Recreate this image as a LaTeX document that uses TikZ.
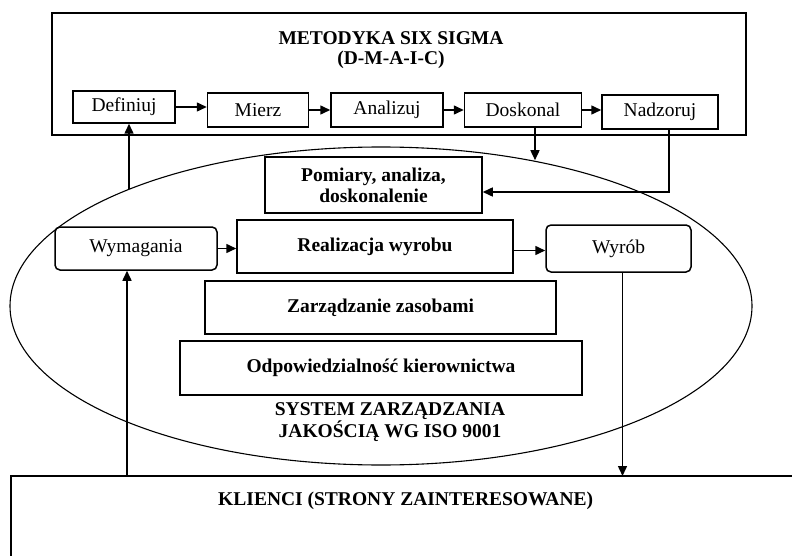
\documentclass[tikz,border=0pt]{standalone}
\usepackage{fontspec}
\setmainfont{Liberation Serif}
\usetikzlibrary{arrows.meta,positioning,shapes.geometric}

\begin{document}
\begin{tikzpicture}[x=1pt,y=-1pt,
  font=\fontsize{19.5}{21}\selectfont,
  box/.style={draw,line width=1.5pt,minimum height=34pt,inner sep=1pt},
  bbox/.style={box,font=\fontsize{19.5}{21}\selectfont\bfseries,align=center},
  rbox/.style={box,rounded corners=5pt},
  arrow/.style={-{Triangle[length=10pt,width=9pt]},line width=1.5pt}
]
\useasboundingbox (0,0) rectangle (792,556);
% Six Sigma frame
\node[draw,line width=1.5pt,minimum width=694pt,minimum height=122pt] (sigma) at (399,74) {};
\node[font=\fontsize{19.5}{20}\selectfont\bfseries,align=center] (title) at (391,50) {METODYKA SIX SIGMA\\(D-M-A-I-C)};
\node[box,minimum width=102pt,minimum height=32pt] (definiuj) at (124,107) {Definiuj};
\node[box,minimum width=101pt,right=31pt of definiuj,yshift=-3pt] (mierz) {Mierz};
\node[box,minimum width=112pt,right=21pt of mierz] (analizuj) {Analizuj};
\node[box,minimum width=117pt,right=20pt of analizuj] (doskonal) {Doskonal};
\node[box,minimum width=116pt,right=19pt of doskonal,yshift=-2pt] (nadzoruj) {Nadzoruj};

% ISO 9001 system
\node[draw,ellipse,line width=1.1pt,minimum width=742pt,minimum height=318pt,inner sep=0pt] (iso) at (381,306) {};
\node[bbox,minimum width=217pt,minimum height=56pt] (pomiary) at (373.5,185) {Pomiary, analiza,\\doskonalenie};
\node[rbox,minimum width=162pt,minimum height=43pt] (wymagania) at (136,248.5) {Wymagania};
\node[bbox,minimum width=276pt,minimum height=53pt] (realizacja) at (375,246.5) {Realizacja wyrobu};
\node[rbox,minimum width=145pt,minimum height=47pt] (wyrob) at (618.5,248.5) {Wyrób};
\node[bbox,minimum width=351pt,minimum height=53pt] (zasoby) at (380.5,307.5) {Zarządzanie zasobami};
\node[bbox,minimum width=402pt,minimum height=54pt] (kierownictwo) at (381,368) {Odpowiedzialność kierownictwa};
\node[font=\fontsize{19.5}{20}\selectfont\bfseries,align=center] (isolabel) at (390,422) {SYSTEM ZARZĄDZANIA\\JAKOŚCIĄ WG ISO 9001};

% clients
\node[anchor=north west,minimum width=789pt,inner ysep=16pt,font=\fontsize{19.5}{20}\selectfont\bfseries] (klienci) at (11,476) {KLIENCI (STRONY ZAINTERESOWANE)};
\draw[line width=1.5pt] ([yshift=-100pt]klienci.north west) -- (klienci.north west) -- (klienci.north east);

% connectors
\draw[arrow] (definiuj.east) -- (definiuj.east -| mierz.west);
\draw[arrow] (mierz) -- (analizuj);
\draw[arrow] (analizuj) -- (doskonal);
\draw[arrow] (doskonal.east) -- (doskonal.east -| nadzoruj.west);
\draw[arrow] ([xshift=12pt]doskonal.south) -- ([xshift=12pt]doskonal.south |- iso.44);
\draw[arrow] ([xshift=9pt]nadzoruj.south) |- ([yshift=-7pt]pomiary.east);
\draw[arrow] ([xshift=5pt]definiuj.south |- iso.155) -- ([xshift=5pt]definiuj.south);
\draw[arrow] (wymagania.east) -- (wymagania.east -| realizacja.west);
\draw[arrow] ([yshift=-2pt]realizacja.east |- wyrob.west) -- ([yshift=-2pt]wyrob.west);
\draw[arrow] ([xshift=-9pt]wymagania.south |- klienci.north) -- ([xshift=-9pt]wymagania.south);
\draw[arrow] ([xshift=4pt]wyrob.south) -- ([xshift=4pt]wyrob.south |- klienci.north);
\end{tikzpicture}
\end{document}
